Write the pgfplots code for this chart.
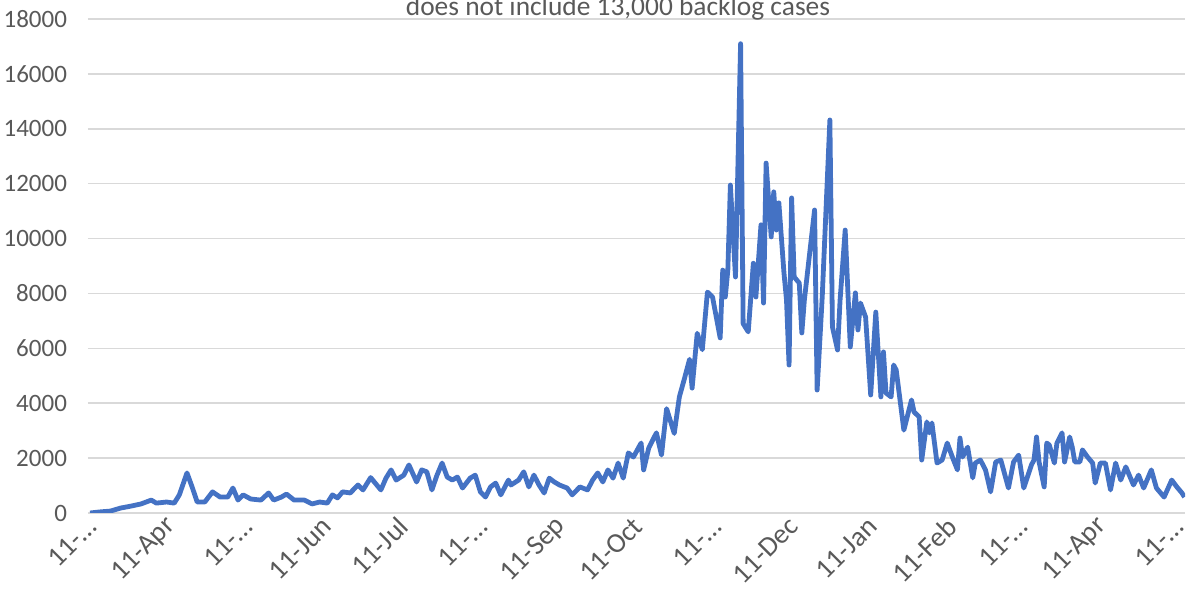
\documentclass[border=0pt]{standalone}
\usepackage{pgfplots}
\pgfplotsset{compat=1.18}
\usepackage{fontspec}
\setmainfont{Carlito}
\definecolor{xlblue}{HTML}{4472C4}
\definecolor{xlgrid}{HTML}{D9D9D9}
\definecolor{xltext}{HTML}{595959}

\begin{document}
\begin{tikzpicture}
\begin{axis}[
    name=ax,
    scale only axis,
    width=548.5pt, height=247pt,
    xmin=-0.8, xmax=429.2,
    ymin=0, ymax=18000,
    ytick={0,2000,...,18000},
    scaled y ticks=false,
    /pgf/number format/1000 sep={},
    /pgf/number format/assume math mode=true,
    xtick={0,31,61,92,122,153,184,214,245,275,306,337,365,396,426},
    xticklabels={11-…,11-Apr,11-…,11-Jun,11-Jul,11-…,11-Sep,11-Oct,11-…,11-Dec,11-Jan,11-Feb,11-…,11-Apr,11-…},
    ticklabel style={text=xltext},
    x tick label style={rotate=45, anchor=east, yshift=-4pt, xshift=1pt,
        font=\fontsize{14}{16}\selectfont},
    y tick label style={xshift=-7pt, font=\fontsize{12.5}{15}\selectfont},
    major tick length=0pt,
    axis line style={draw=none},
    ymajorgrids=true,
    grid style={xlgrid, line width=0.8pt},
]
\addplot[xlblue, line width=2.4pt, line join=round, no markers] table {
day cases
0 0
4 40
8 70
12 180
16 250
20 330
24 470
26 360
30 400
33 360
35 660
38 1460
40 950
42 400
45 400
48 770
51 580
54 580
56 910
58 470
60 660
63 510
67 470
70 730
72 470
75 580
77 690
80 470
84 470
87 330
90 400
93 360
95 660
97 550
99 770
102 730
105 1020
107 840
110 1290
114 840
116 1270
118 1570
120 1200
123 1380
125 1750
128 1130
130 1570
132 1500
134 840
136 1380
138 1820
140 1310
142 1200
144 1310
146 910
149 1270
151 1380
153 770
155 580
157 950
159 1090
161 660
164 1200
165 1020
168 1200
170 1500
172 950
174 1380
176 1020
178 730
180 1270
182 1130
184 1020
187 910
189 660
192 950
195 840
197 1200
199 1460
201 1130
203 1570
205 1270
207 1820
209 1270
211 2190
213 2040
216 2550
217 1570
219 2370
222 2920
224 2110
226 3800
229 2900
231 4230
233 4900
235 5600
236 4550
238 6550
240 5950
242 8050
244 7870
247 6380
248 8850
249 7870
250 8850
251 11950
253 8600
255 17100
256 6900
258 6600
260 9100
261 7870
263 10500
264 7650
265 12750
267 10060
268 11700
269 10310
270 11300
272 8750
273 7760
274 5390
275 11480
276 8600
278 8380
279 6560
280 7760
284 11040
285 4480
287 7870
290 14320
291 6780
293 5940
294 7760
296 10310
298 6050
300 8020
301 6670
302 7650
304 7140
306 4300
308 7320
310 4230
311 5870
312 4370
314 4230
315 5390
316 5210
319 3020
322 4120
323 3680
325 3500
326 1930
328 3320
329 2920
330 3280
332 1820
334 1930
336 2550
338 2040
340 1570
341 2730
342 2040
344 2400
346 1280
347 1820
349 1930
351 1570
353 770
355 1860
357 1930
360 910
362 1860
364 2110
366 910
369 1750
370 1930
371 2770
372 1860
374 950
375 2550
376 2480
378 1820
379 2550
381 2920
382 1860
384 2770
385 2400
386 1860
388 1860
389 2300
391 2040
393 1820
394 1090
396 1820
398 1820
400 840
402 1820
404 1200
406 1680
409 1020
411 1380
413 910
416 1570
418 910
421 580
424 1200
426 950
428 730
429 580
};
\end{axis}
\node[anchor=base, font=\fontsize{13.7}{16}\selectfont, text=xltext]
    at ([shift={(265pt,1.5pt)}]ax.north west) {does not include 13,000 backlog cases};
\pgfresetboundingbox
\path[use as bounding box] ([shift={(-44pt,-42pt)}]ax.south west)
    rectangle ([shift={(1.5pt,9.5pt)}]ax.north east);
\end{tikzpicture}
\end{document}
